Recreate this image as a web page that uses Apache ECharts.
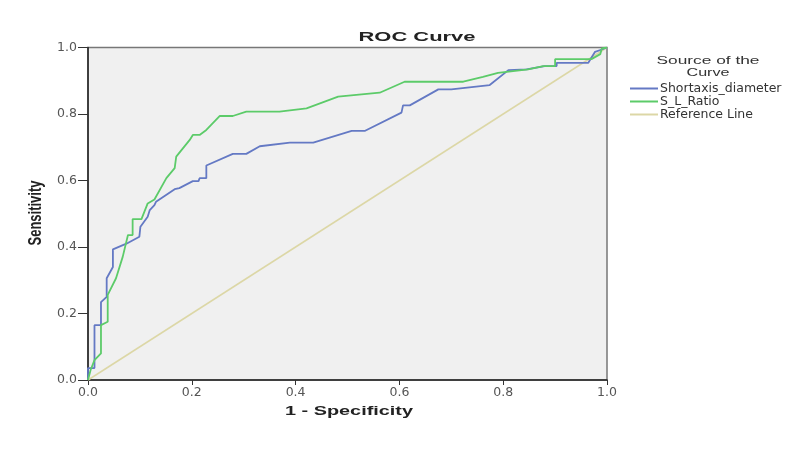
<!DOCTYPE html>
<html><head><meta charset="utf-8">
<script src="https://cdn.jsdelivr.net/npm/echarts@6/dist/echarts.min.js"></script>
<style>html,body{margin:0;padding:0;background:#fff}#c{width:800px;height:450px}</style>
</head><body><div id="c"></div>
<script>
const seriesNames = ['Shortaxis_diameter', 'S_L_Ratio', 'Reference Line'];
const tickLabels = ['0.0', '0.2', '0.4', '0.6', '0.8', '1.0'];
const shortaxis = [[0,0],[0,0.036],[0.0125,0.036],[0.0125,0.165],[0.025,0.165],[0.025,0.234],[0.036,0.25],[0.036,0.306],[0.048,0.34],[0.048,0.393],[0.074,0.41],[0.099,0.431],[0.101,0.461],[0.115,0.491],[0.119,0.511],[0.128,0.526],[0.131,0.536],[0.167,0.574],[0.176,0.577],[0.202,0.598],[0.213,0.598],[0.215,0.607],[0.228,0.607],[0.228,0.645],[0.279,0.68],[0.305,0.68],[0.331,0.703],[0.389,0.714],[0.434,0.714],[0.508,0.749],[0.533,0.749],[0.604,0.804],[0.607,0.826],[0.62,0.826],[0.675,0.874],[0.7,0.874],[0.774,0.887],[0.81,0.932],[0.845,0.934],[0.88,0.944],[0.903,0.944],[0.903,0.954],[0.964,0.954],[0.977,0.987],[0.99,0.994],[1,1]];
const slRatio = [[0,0],[0.005,0.03],[0.0125,0.06],[0.025,0.08],[0.025,0.165],[0.038,0.175],[0.038,0.256],[0.054,0.306],[0.067,0.371],[0.077,0.436],[0.086,0.436],[0.086,0.484],[0.103,0.484],[0.115,0.531],[0.128,0.543],[0.151,0.607],[0.167,0.637],[0.17,0.672],[0.196,0.722],[0.202,0.737],[0.215,0.737],[0.228,0.752],[0.254,0.794],[0.279,0.794],[0.305,0.807],[0.369,0.807],[0.421,0.817],[0.482,0.852],[0.562,0.864],[0.61,0.897],[0.723,0.897],[0.761,0.912],[0.79,0.924],[0.848,0.934],[0.877,0.944],[0.9,0.944],[0.9,0.965],[0.97,0.965],[0.987,0.98],[0.99,0.997],[1,1]];
const referenceLine = [[0,0],[1,1]];
const chartTitle = 'ROC Curve';
const xTitle = '1 - Specificity';
const yTitle = 'Sensitivity';
const legendTitle = ['Source of the', 'Curve'];

const font = 'Liberation Sans, Arial, sans-serif';
const ctx = document.createElement('canvas').getContext('2d');
function fitScale(text, weight, size, target) {
  ctx.font = weight + ' ' + size + 'px ' + font;
  return target / ctx.measureText(text).width;
}
function stretchedText(text, cx, cy, weight, size, target, color, vertical) {
  const s = vertical ? 1 : fitScale(text, weight, size, target);
  return {
    type: 'text', x: cx, y: cy, rotation: vertical ? Math.PI / 2 : 0,
    scaleX: s, scaleY: vertical ? 1.45 : 1, silent: true,
    style: {text: text, fontFamily: font, fontSize: size, fontWeight: weight, fill: color,
            textAlign: 'center', textVerticalAlign: 'middle'}
  };
}

const chart = echarts.init(document.getElementById('c'), null, {renderer:'canvas'});
chart.setOption({
  animation: false,
  backgroundColor: '#fff',
  graphic: [
    stretchedText(chartTitle, 417, 37, 'bold', 13.5, 117, '#222'),
    stretchedText(xTitle, 349, 411, 'bold', 13, 128, '#222'),
    stretchedText(legendTitle[0], 708, 61, 'normal', 11.5, 103, '#333'),
    stretchedText(legendTitle[1], 708, 73, 'normal', 11.5, 43, '#333'),
    stretchedText(yTitle, 36, 213, 'bold', 13, 0, '#222', true)
  ],
  legend: {
    orient: 'vertical', left: 625, top: 77, itemWidth: 28, itemHeight: 2, itemGap: 0,
    icon: 'rect',
    textStyle: {fontFamily: 'DejaVu Sans, sans-serif', fontSize: 12.5, color: '#333', lineHeight: 12, padding: [0,0,0,-3]},
    data: seriesNames
  },
  grid: {left: 88, right: 193, top: 47.5, bottom: 70, show: true,
         backgroundColor: '#f0f0f0', borderColor: '#777', borderWidth: 1.5},
  xAxis: {
    type: 'value', min: 0, max: 1, interval: 0.2,
    axisLine: {lineStyle: {color: '#222', width: 1.5}},
    axisTick: {show: true, length: 5, lineStyle: {color: '#333'}},
    axisLabel: {fontFamily: 'DejaVu Sans, sans-serif', fontSize: 12.5, color: '#555', margin: 6,
                formatter: v => tickLabels[Math.round(v * 5)]},
    splitLine: {show: false}
  },
  yAxis: {
    type: 'value', min: 0, max: 1, interval: 0.2,
    axisLine: {lineStyle: {color: '#222', width: 1.5}},
    axisTick: {show: true, length: 10, lineStyle: {color: '#333'}},
    axisLabel: {fontFamily: 'DejaVu Sans, sans-serif', fontSize: 12.5, color: '#555', margin: 11,
                formatter: v => tickLabels[Math.round(v * 5)]},
    splitLine: {show: false}
  },
  series: [
    {name: seriesNames[0], type: 'line', data: shortaxis, showSymbol: false, symbol: 'none',
     lineStyle: {color: '#6479c4', width: 1.8}, itemStyle: {color: '#6479c4'}, z: 3},
    {name: seriesNames[1], type: 'line', data: slRatio, showSymbol: false, symbol: 'none',
     lineStyle: {color: '#5ccb69', width: 1.8}, itemStyle: {color: '#5ccb69'}, z: 4},
    {name: seriesNames[2], type: 'line', data: referenceLine, showSymbol: false, symbol: 'none',
     lineStyle: {color: '#dcd7a6', width: 1.5}, itemStyle: {color: '#dcd7a6'}, z: 2}
  ]
});
</script></body></html>
